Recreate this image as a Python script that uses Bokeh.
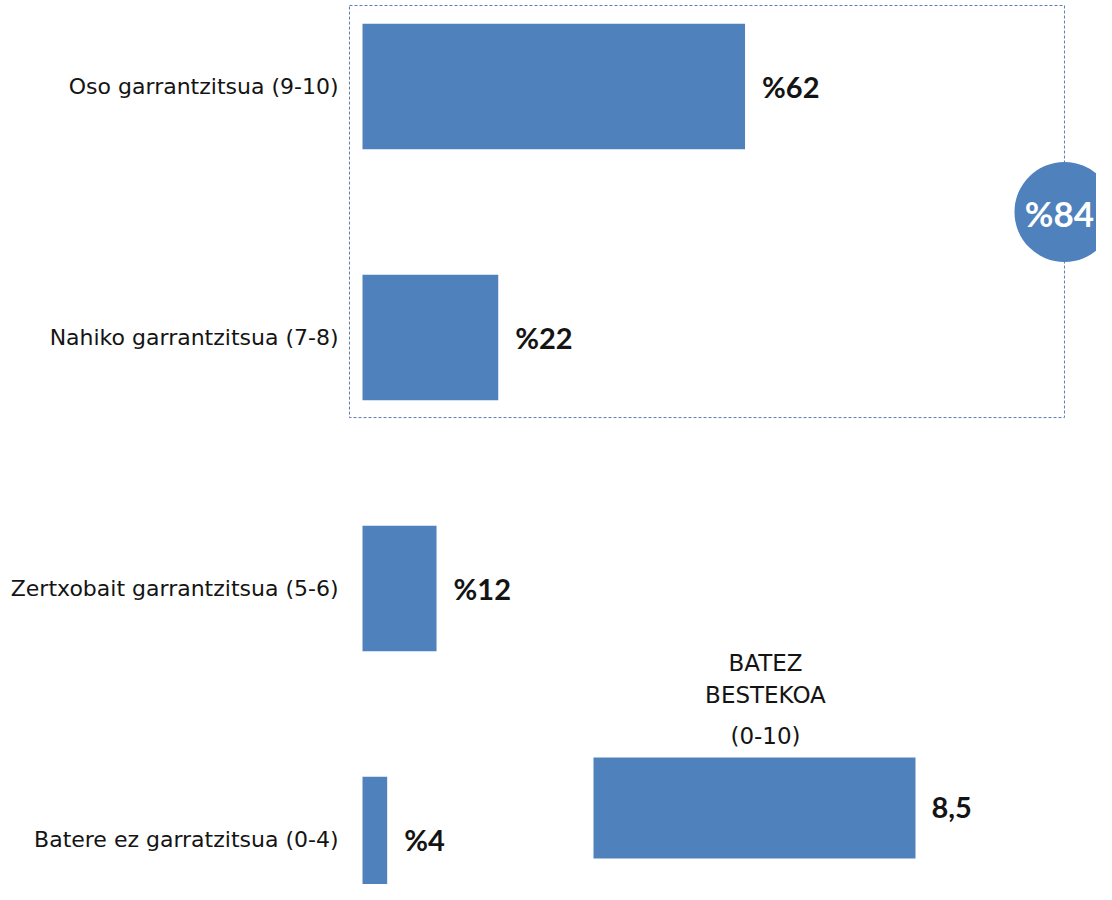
from bokeh.plotting import figure
from bokeh.models import Range1d, FixedTicker
from bokeh.core.properties import value
from bokeh.embed import file_html
from bokeh.resources import INLINE

# ---- data ----
categories = ["Oso garrantzitsua (9-10)", "Nahiko garrantzitsua (7-8)",
              "Zertxobait garrantzitsua (5-6)", "Batere ez garratzitsua (0-4)"]
values = [62, 22, 12, 4]
value_labels = ["%62", "%22", "%12", "%4"]
total_label = "%84"
average = [8.5]
average_label = ["8,5"]
average_title = ["BATEZ", "BESTEKOA", "(0-10)"]

# ---- layout ----
rows = [4, 3, 2, 1]
BLUE = "#4f81bd"
TXT = "#141414"
FONT = "DejaVu Sans"
BFONT = "Lato"

p = figure(width=1096, height=884, output_backend="svg", toolbar_location=None,
           x_axis_location=None, min_border_left=346, min_border_right=0,
           min_border_top=0, min_border_bottom=0,
           x_range=Range1d(-2.593, 118.96), y_range=Range1d(0.8207, 4.3426))
p.extra_x_ranges = {"avg": Range1d(-6.521, 13.279)}
p.outline_line_color = None
p.xgrid.visible = False
p.ygrid.visible = False
p.background_fill_color = "white"

ax = p.yaxis[0]
ax.ticker = FixedTicker(ticks=rows)
ax.major_label_overrides = {r: c for r, c in zip(rows, categories)}
ax.axis_line_color = None
ax.major_tick_line_color = None
ax.minor_tick_line_color = None
ax.major_tick_out = 0
ax.major_tick_in = 0
ax.minor_tick_out = 0
ax.minor_tick_in = 0
ax.major_label_standoff = 8
ax.major_label_text_font = FONT
ax.major_label_text_font_size = "22px"
ax.major_label_text_color = TXT

# dotted box around the top two categories
box_left, box_right, box_top, box_bottom = -2.107, 113.77, 4.3227, 2.681
p.quad(left=[box_left], right=[box_right], top=[box_top], bottom=[box_bottom],
       fill_color=None, line_color="#5b7db5", line_dash="3 2", line_width=1)

# category bars
p.hbar(y=rows, left=0, right=values, height=0.5, fill_color=BLUE, line_color=None)
p.text(x=values, y=rows, text=value_labels, x_offset=17, text_baseline="middle",
       text_align="left", text_font=value(BFONT), text_font_style="bold",
       text_font_size="29px", text_color=TXT)

# bubble with total
p.scatter(x=[box_right], y=[3.5], size=100, marker="circle", fill_color=BLUE, line_color=None)
p.text(x=[box_right], y=[3.5], text=[total_label], x_offset=-5, y_offset=1,
       text_align="center", text_baseline="middle", text_font=value(BFONT),
       text_font_style="bold", text_font_size="35px", text_color="white")

# average bar
avg_y = 1.1255
p.hbar(y=[avg_y], left=0, right=average, height=0.402, fill_color=BLUE,
       line_color=None, x_range_name="avg")
p.text(x=average, y=[avg_y], text=average_label, x_offset=16, text_baseline="middle",
       text_align="left", text_font=value(BFONT), text_font_style="bold",
       text_font_size="29px", text_color=TXT, x_range_name="avg")
p.text(x=[4.54] * 3, y=[1.705, 1.574, 1.414], text=average_title,
       text_align="center", text_baseline="middle", text_font=value(FONT),
       text_font_size="23px", text_color=TXT, x_range_name="avg")

open("out.html", "w").write(file_html(p, INLINE))
